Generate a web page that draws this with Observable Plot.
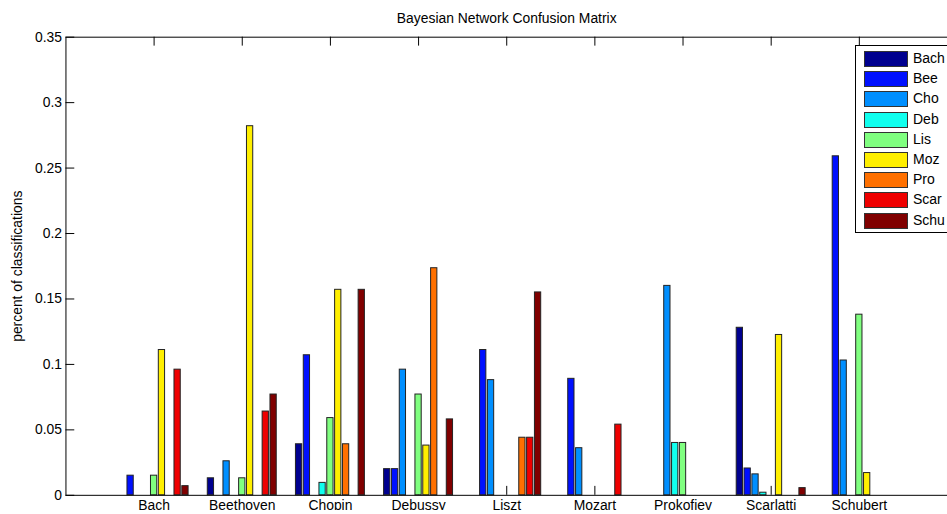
<!DOCTYPE html>
<html>
<head>
<meta charset="utf-8">
<script src="https://cdn.jsdelivr.net/npm/d3@7"></script>
<script src="https://cdn.jsdelivr.net/npm/@observablehq/plot@0.6"></script>
<style>
  html, body { margin: 0; padding: 0; background: #fff; overflow: hidden; }
  #wrap { position: relative; width: 947px; height: 514px; overflow: hidden; }
  #legend { position: absolute; left: 855px; top: 45px; width: 100px; height: 186px;
    border: 1px solid #000; background: #fff; font: 14px "Liberation Sans", Arial, sans-serif; }
  .row { position: absolute; left: 8px; height: 15px; }
  .sw { position: absolute; left: 0; top: 0; width: 42px; height: 14px; border: 1px solid #333; }
  .lb { position: absolute; left: 49px; top: -1px; line-height: 16px; white-space: nowrap; color: #000; }
</style>
</head>
<body>
<div id="wrap"></div>
<script>
const title = "Bayesian Network Confusion Matrix";
const yLabel = "percent of classifications";
const composers = ["Bach","Beethoven","Chopin","Debussy","Liszt","Mozart","Prokofiev","Scarlatti","Schubert"];
const series = ["Bach","Bee","Cho","Deb","Lis","Moz","Pro","Scar","Schu"];
const colors = ["#00008F","#0010FF","#008FFF","#10FFEF","#80FF80","#FFEF00","#FF7000","#EF0000","#800000"];
const yTicks = [0, 0.05, 0.1, 0.15, 0.2, 0.25, 0.3, 0.35];
const yTickLabels = ["0","0.05","0.1","0.15","0.2","0.25","0.3","0.35"];

// one array per series, values for each composer group
const vBach = [0, 0.013, 0.039, 0.020, 0, 0, 0, 0.128, 0];
const vBee  = [0.015, 0, 0.107, 0.020, 0.111, 0.089, 0, 0.0205, 0.259];
const vCho  = [0, 0.026, 0, 0.096, 0.088, 0.036, 0.160, 0.016, 0.103];
const vDeb  = [0, 0, 0.0095, 0, 0, 0, 0.040, 0.002, 0];
const vLis  = [0.015, 0.013, 0.059, 0.077, 0, 0, 0.040, 0, 0.138];
const vMoz  = [0.111, 0.282, 0.157, 0.038, 0, 0, 0, 0.1225, 0.017];
const vPro  = [0, 0, 0.039, 0.1735, 0.044, 0, 0, 0, 0];
const vScar = [0.096, 0.064, 0, 0, 0.044, 0.054, 0, 0, 0];
const vSchu = [0.007, 0.077, 0.157, 0.058, 0.155, 0, 0, 0.0055, 0];
const values = [vBach, vBee, vCho, vDeb, vLis, vMoz, vPro, vScar, vSchu];

// grouped-bar table (MATLAB style: group width 0.8, bar width 0.8 of slot)
const groupWidth = 0.8, slot = groupWidth / series.length, barFrac = 0.8;
const table = [];
composers.forEach((c, ci) => {
  series.forEach((s, si) => {
    const x1 = (ci + 1) - groupWidth / 2 + si * slot + slot * (1 - barFrac) / 2;
    table.push({composer: c, series: s, value: values[si][ci], x1, x2: x1 + slot * barFrac});
  });
});
const xTickPos = composers.map((c, i) => i + 1);
const tickLenY = 0.35 * 9 / 462;

const chart = Plot.plot({
  width: 955, height: 514,
  marginLeft: 66, marginRight: 0, marginTop: 37, marginBottom: 15,
  style: {fontFamily: "'Liberation Sans', Arial, sans-serif", fontSize: "14px", background: "#fff", color: "#000"},
  x: {type: "linear", domain: [0, 10], axis: null},
  y: {domain: [0, 0.35], axis: null},
  color: {domain: series, range: colors},
  marks: [
    Plot.ruleY(yTicks, {y: d => d, x1: 0, x2: 0.1, stroke: "#000"}),
    Plot.ruleX(xTickPos, {x: d => d, y1: 0, y2: tickLenY, stroke: "#000"}),
    Plot.ruleX(xTickPos, {x: d => d, y1: 0.35 - tickLenY, y2: 0.35, stroke: "#000"}),
    Plot.rect(table, {x1: "x1", x2: "x2", y1: 0, y2: "value", fill: "series", stroke: "#222", strokeWidth: 1}),
    Plot.frame({stroke: "#000"}),
    Plot.text(yTicks, {x: 0, y: d => d, text: (d, i) => yTickLabels[i], textAnchor: "end", dx: -4, fill: "#000"}),
    Plot.text(xTickPos, {x: d => d, y: 0, text: d => composers[d - 1], lineAnchor: "top", dy: 5, fill: "#000"}),
    Plot.text([title], {frameAnchor: "top", text: d => d, textAnchor: "middle", lineAnchor: "middle", dy: -19, fill: "#000"}),
    Plot.text([yLabel], {frameAnchor: "left", text: d => d, textAnchor: "middle", lineAnchor: "middle", rotate: -90, dx: -49, fill: "#000"})
  ]
});
document.getElementById("wrap").appendChild(chart);

// legend
const lg = document.createElement("div");
lg.id = "legend";
series.forEach((s, i) => {
  const row = document.createElement("div");
  row.className = "row";
  row.style.top = (5 + i * 20.2) + "px";
  const sw = document.createElement("div");
  sw.className = "sw";
  sw.style.background = colors[i];
  const lb = document.createElement("div");
  lb.className = "lb";
  lb.textContent = s;
  row.appendChild(sw); row.appendChild(lb);
  lg.appendChild(row);
});
document.getElementById("wrap").appendChild(lg);
</script>
</body>
</html>
